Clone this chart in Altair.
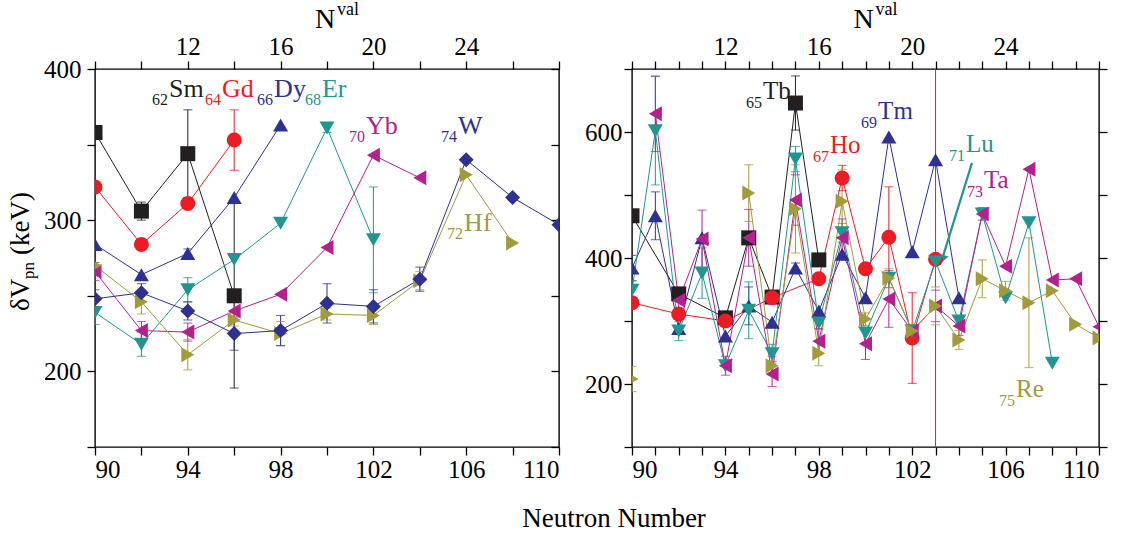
import altair as alt
import pandas as pd

SERIF = "Liberation Serif"

# ---------- left panel: even-Z chains ----------
SM_N = [90, 92, 94, 96]
SM_V = [358, 306, 344, 250]
SM_E = [0, 6, 29, 61]
GD_N = [90, 92, 94, 96]
GD_V = [322, 284, 311, 353]
GD_E = [0, 0, 3, 20]
DY_N = [90, 92, 94, 96, 98]
DY_V = [284, 264, 278, 315, 363]
DY_E = [0, 0, 3, 0, 0]
ER_N = [90, 92, 94, 96, 98, 100, 102]
ER_V = [239, 218, 254, 274, 298, 361, 287]
ER_E = [8, 8, 8, 0, 0, 3, 35]
YB_N = [90, 92, 94, 96, 98, 100, 102, 104]
YB_V = [266, 227, 226, 240, 251, 282, 343, 328]
YB_E = [6, 6, 6, 6, 0, 0, 0, 0]
HF_N = [90, 92, 94, 96, 98, 100, 102, 104, 106, 108]
HF_V = [270, 246, 211, 234, 225, 238, 237, 260, 330, 285]
HF_E = [0, 8, 10, 4, 8, 4, 6, 6, 0, 0]
W_N = [90, 92, 94, 96, 98, 100, 102, 104, 106, 108, 110]
W_V = [248, 252, 240, 225, 227, 245, 243, 261, 340, 315, 297]
W_E = [6, 6, 6, 11, 10, 13, 11, 8, 0, 0, 0]

# ---------- right panel: odd-Z chains ----------
TB_N = [90, 92, 94, 95, 96, 97, 98]
TB_V = [467, 343, 305, 432, 338, 646, 397]
TB_E = [0, 0, 0, 0, 0, 43, 0]
HO_N = [90, 92, 94, 96, 98, 99, 100, 101, 102, 103]
HO_V = [329, 311, 300, 337, 367, 527, 383, 433, 273, 398]
HO_E = [8, 0, 0, 0, 0, 20, 0, 80, 72, 400]
TM_N = [90, 91, 92, 93, 94, 95, 96, 97, 98, 99, 100, 101, 102, 103, 104]
TM_V = [384, 467, 288, 432, 276, 324, 298, 384, 316, 406, 337, 592, 410, 556, 337]
TM_E = [20, 38, 0, 0, 0, 30, 0, 8, 0, 0, 0, 0, 0, 0, 0]
LU_N = [90, 91, 92, 93, 94, 95, 96, 97, 98, 99, 100, 101, 102, 103, 104, 105, 106, 107, 108]
LU_V = [349, 602, 284, 376, 229, 317, 248, 557, 297, 440, 281, 368, 284, 394, 300, 470, 337, 456, 233]
LU_E = [15, 86, 15, 40, 0, 45, 15, 20, 10, 15, 0, 0, 0, 0, 0, 0, 0, 0, 0]
TA_N = [91, 92, 93, 94, 95, 96, 97, 98, 99, 100, 101, 102, 103, 104, 105, 106, 107, 108, 109, 110]
TA_V = [629, 333, 430, 229, 432, 216, 492, 268, 432, 264, 335, 284, 324, 292, 470, 387, 541, 365, 367, 291]
TA_E = [60, 15, 46, 15, 45, 20, 40, 20, 30, 25, 45, 10, 25, 15, 10, 0, 0, 0, 0, 0]
RE_N = [90, 95, 96, 97, 98, 99, 100, 101, 102, 103, 104, 105, 106, 107, 108, 109, 110]
RE_V = [208, 503, 229, 478, 249, 490, 303, 368, 284, 324, 270, 367, 348, 329, 348, 295, 273]
RE_E = [20, 45, 15, 70, 20, 50, 10, 15, 10, 30, 15, 30, 15, 103, 0, 0, 0]
RE_SEG = [0, 1, 1, 1, 1, 1, 1, 1, 1, 1, 1, 1, 1, 1, 1, 1, 1]

# pointer from the Lu label to its N = 103 point
LU_ARROW_N = [104.56, 103.28]
LU_ARROW_V = [551, 398]

# chain labels: symbol, Z, position of the symbol's left edge
LEFT_LAB_SYM = ["Sm", "Gd", "Dy", "Er", "Yb", "W", "Hf"]
LEFT_LAB_Z = ["62", "64", "66", "68", "70", "74", "72"]
LEFT_LAB_N = [93.19, 95.47, 97.72, 99.78, 101.68, 105.65, 105.91]
LEFT_LAB_V = [387, 387, 387, 387, 362, 362, 298]
RIGHT_LAB_SYM = ["Tb", "Ho", "Tm", "Lu", "Ta", "Re"]
RIGHT_LAB_Z = ["65", "67", "69", "71", "73", "75"]
RIGHT_LAB_N = [95.61, 98.48, 100.54, 104.30, 105.07, 106.45]
RIGHT_LAB_V = [665, 579, 633, 581, 524, 192]

BLACK, RED, NAVY, TEAL, MAGENTA, OLIVE = "#231f20", "#ec1c24", "#2e3192", "#1f968f", "#b4208e", "#a29a3b"

LEFT_ELS = ["Sm", "Gd", "Dy", "Er", "Yb", "Hf", "W"]
LEFT_COLS = [BLACK, RED, NAVY, TEAL, MAGENTA, OLIVE, NAVY]
LEFT_SHAPES = ["square", "circle", "triangle-up", "triangle-down", "triangle-left", "triangle-right", "diamond"]
RIGHT_ELS = ["Tb", "Ho", "Tm", "Lu", "Ta", "Re"]
RIGHT_COLS = [BLACK, RED, NAVY, TEAL, MAGENTA, OLIVE]
RIGHT_SHAPES = ["square", "circle", "triangle-up", "triangle-down", "triangle-left", "triangle-right"]


def chain(el, ns, vs, es, seg=None):
    seg = seg if seg is not None else [0] * len(ns)
    return pd.DataFrame({"el": el, "N": ns, "V": vs, "E": es, "seg": [f"{el}{s}" for s in seg]})


left_df = pd.concat([
    chain("Sm", SM_N, SM_V, SM_E), chain("Gd", GD_N, GD_V, GD_E),
    chain("Dy", DY_N, DY_V, DY_E), chain("Er", ER_N, ER_V, ER_E),
    chain("Yb", YB_N, YB_V, YB_E), chain("Hf", HF_N, HF_V, HF_E),
    chain("W", W_N, W_V, W_E)], ignore_index=True)
right_df = pd.concat([
    chain("Tb", TB_N, TB_V, TB_E), chain("Ho", HO_N, HO_V, HO_E),
    chain("Tm", TM_N, TM_V, TM_E), chain("Lu", LU_N, LU_V, LU_E),
    chain("Ta", TA_N, TA_V, TA_E), chain("Re", RE_N, RE_V, RE_E, RE_SEG)], ignore_index=True)

for d in (left_df, right_df):
    d["lo"] = d["V"] - d["E"]
    d["hi"] = d["V"] + d["E"]

left_lab = pd.DataFrame({"el": LEFT_LAB_SYM, "sym": LEFT_LAB_SYM, "z": LEFT_LAB_Z,
                         "N": LEFT_LAB_N, "V": LEFT_LAB_V})
right_lab = pd.DataFrame({"el": RIGHT_LAB_SYM, "sym": RIGHT_LAB_SYM, "z": RIGHT_LAB_Z,
                          "N": RIGHT_LAB_N, "V": RIGHT_LAB_V})
arrow_df = pd.DataFrame({"N": LU_ARROW_N, "V": LU_ARROW_V, "end": [0, 1]})


def txt(s, x, y, size, angle=0, align="left", baseline="alphabetic", color="black"):
    return alt.Chart(pd.DataFrame({"t": [s]})).mark_text(
        font=SERIF, fontSize=size, angle=angle, align=align, baseline=baseline, color=color
    ).encode(x=alt.value(x), y=alt.value(y), text="t:N")


def panel(df, lab, els, cols, shapes, ydom, w, h, xstep, yvals, ylabs, right_offset, ypad,
          sym_size, sub_size, sub_dy, extras):
    xs = alt.Scale(domain=[90, 110], nice=False, zero=False)
    ys = alt.Scale(domain=ydom, nice=False, zero=False)
    col = alt.Color("el:N", scale=alt.Scale(domain=els, range=cols), legend=None)
    X = alt.X("N:Q", scale=xs, axis=None)
    Y = alt.Y("V:Q", scale=ys, axis=None)
    xvals = list(range(90, 111, xstep))
    lab_expr = "indexof([" + ",".join(str(v) for v in ylabs) + "], datum.value) >= 0 ? datum.label : ''"

    frame = pd.DataFrame({"N": [90, 110], "V": ydom})
    axes_a = alt.Chart(frame).mark_point(opacity=0).encode(
        x=alt.X("N:Q", scale=xs, axis=alt.Axis(
            orient="bottom", values=xvals, title=None, labelOverlap=False,
            labelExpr="datum.value % 4 == 2 ? datum.label : ''")),
        y=alt.Y("V:Q", scale=ys, axis=alt.Axis(
            orient="left", values=yvals, title=None, labelOverlap=False, labelPadding=ypad,
            labelExpr=lab_expr)),
    )
    axes_b = alt.Chart(frame).mark_point(opacity=0).encode(
        x=alt.X("N:Q", scale=xs, axis=alt.Axis(
            orient="top", values=xvals, title=None, labelOverlap=False,
            labelExpr="indexof([94, 98, 102, 106], datum.value) >= 0 ? '' + (datum.value - 82) : ''")),
        y=alt.Y("V:Q", scale=ys, axis=alt.Axis(
            orient="right", values=yvals, title=None, labels=False, offset=right_offset)),
    )

    err = df[df["E"] > 0]
    rules = alt.Chart(err).mark_rule(strokeWidth=1.0, clip=True).encode(
        x=X, y=alt.Y("lo:Q", scale=ys, axis=None), y2="hi:Q", color=col)
    cap_lo = alt.Chart(err).mark_tick(orient="horizontal", size=9, thickness=1.1, clip=True).encode(
        x=X, y=alt.Y("lo:Q", scale=ys, axis=None), color=col)
    cap_hi = alt.Chart(err).mark_tick(orient="horizontal", size=9, thickness=1.1, clip=True).encode(
        x=X, y=alt.Y("hi:Q", scale=ys, axis=None), color=col)
    lines = alt.Chart(df).mark_line(strokeWidth=1.0, clip=True).encode(
        x=X, y=Y, color=col, detail="seg:N", order="N:Q")
    pts = alt.Chart(df).mark_point(filled=True, size=225, opacity=1, clip=True).encode(
        x=X, y=Y, color=col,
        shape=alt.Shape("el:N", scale=alt.Scale(domain=els, range=shapes), legend=None))
    sym = alt.Chart(lab).mark_text(font=SERIF, fontSize=sym_size, align="left", baseline="middle").encode(
        x=X, y=Y, text="sym:N", color=col)
    sub = alt.Chart(lab).mark_text(font=SERIF, fontSize=sub_size, align="right", baseline="middle",
                                   dx=-1, dy=sub_dy).encode(x=X, y=Y, text="z:N", color=col)

    layers = [axes_a, axes_b, rules, cap_lo, cap_hi, lines] + extras(X, Y) + [pts, sym, sub]
    layers += [txt("N", w / 2 - 2, -41, 28, align="center"), txt("val", w / 2 + 10, -54, 18)]
    return alt.layer(*layers).properties(width=w, height=h).resolve_axis(x="independent", y="independent")


def left_extras(X, Y):
    return []


def right_extras(X, Y):
    shaft = alt.Chart(arrow_df).mark_line(strokeWidth=2.2, color=TEAL, clip=True).encode(x=X, y=Y, order="end:Q")
    head = alt.Chart(arrow_df[arrow_df["end"] == 1]).mark_point(
        shape="triangle-down", filled=True, size=110, angle=17, color=TEAL, opacity=1).encode(x=X, y=Y)
    return [shaft, head]


left = panel(left_df, left_lab, LEFT_ELS, LEFT_COLS, LEFT_SHAPES, [150, 400], 464, 378, 2,
             [150, 200, 250, 300, 350, 400], [200, 300, 400], -8, 6, 26, 16, 11, left_extras)
right = panel(right_df, right_lab, RIGHT_ELS, RIGHT_COLS, RIGHT_SHAPES, [100, 700], 467, 378, 1,
              [100, 200, 300, 400, 500, 600, 700], [200, 400, 600], 0, 2, 25, 16, 12, right_extras)

# y title (delta V_pn) and the shared x title, drawn in the left panel's frame
left = alt.layer(
    left,
    txt("δV", -74, 242, 27, angle=270, baseline="middle"),
    txt("pn", -66, 210, 17, angle=270, baseline="middle"),
    txt("(keV)", -74, 186, 27, angle=270, baseline="middle"),
    txt("Neutron Number", 519, 458, 27, align="center"),
).resolve_axis(x="independent", y="independent")

chart = alt.hconcat(left, right, spacing=73, bounds="flush").configure(
    font=SERIF
).configure_view(
    stroke="black", strokeWidth=1.4
).configure_axis(
    domain=False, grid=False, labelFont=SERIF, labelFontSize=25, labelColor="black",
    tickColor="black", tickWidth=1.3, tickSize=8, labelPadding=2,
).properties(padding={"left": 6, "top": 0, "right": 5, "bottom": 5}, background="white")

chart.save("out.html", embed_options={"renderer": "svg", "actions": False})
